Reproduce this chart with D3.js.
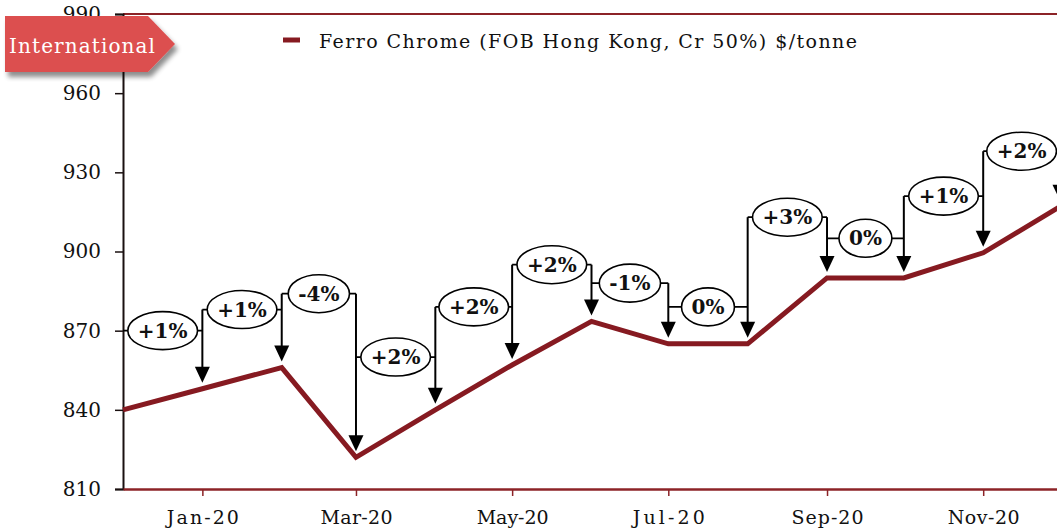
<!DOCTYPE html>
<html>
<head>
<meta charset="utf-8">
<script src="https://cdn.jsdelivr.net/npm/d3@7"></script>
<style>
  html, body { margin: 0; padding: 0; background: #fff; }
  svg { display: block; }
</style>
</head>
<body>
<svg id="chart" width="1057" height="529"></svg>
<script>
// ---------- data ----------
const months = ["2019-12","2020-01","2020-02","2020-03","2020-04","2020-05","2020-06",
                "2020-07","2020-08","2020-09","2020-10","2020-11","2020-12"];
const prices = [840, 848, 856, 822, 840, 857, 873.5, 865, 865, 890, 890, 899.5, 917];
const changeLabels = ["+1%","+1%","-4%","+2%","+2%","+2%","-1%","0%","+3%","0%","+1%","+2%"];
// callout levels (in $/tonne) at which each change bubble sits
const calloutLevels = [870, 878, 884, 860, 879, 895, 888, 879, 913, 905, 921, 938];
const yTicks = [810, 840, 870, 900, 930, 960, 990];
const xTickMonths = ["2020-01","2020-03","2020-05","2020-07","2020-09","2020-11"];
const seriesName = "Ferro Chrome (FOB Hong Kong, Cr 50%) $/tonne";
const bannerText = "International";

// ---------- setup ----------
const parse = d3.timeParse("%Y-%m");
const dates = months.map(parse);
const svg = d3.select("#chart");
const lineColor = "#861a21";
const axisRed = "#8c2327";

const x = d3.scaleTime()
  .domain([parse("2019-12"), parse("2020-12")])
  .range([123, 1060]);
const y = d3.scaleLinear().domain([810, 990]).range([489, 14]);

svg.append("rect").attr("width", 1057).attr("height", 529).attr("fill", "#fff");

// defs
const defs = svg.append("defs");
const f = defs.append("filter").attr("id", "shadow").attr("x", "-20%").attr("y", "-20%")
  .attr("width", "150%").attr("height", "160%");
f.append("feGaussianBlur").attr("in", "SourceAlpha").attr("stdDeviation", 2.5).attr("result", "b");
f.append("feOffset").attr("in", "b").attr("dx", 3).attr("dy", 5).attr("result", "o");
f.append("feComponentTransfer").attr("in", "o").attr("result", "o2")
  .append("feFuncA").attr("type", "linear").attr("slope", 0.45);
const m = f.append("feMerge");
m.append("feMergeNode").attr("in", "o2");
m.append("feMergeNode").attr("in", "SourceGraphic");

// top border of plot area
svg.append("line")
  .attr("x1", x.range()[0]).attr("x2", 1057)
  .attr("y1", y(990)).attr("y2", y(990))
  .attr("stroke", axisRed).attr("stroke-width", 2);

// ---------- axes ----------
const yAxis = svg.append("g")
  .attr("transform", `translate(${x.range()[0]},0)`)
  .call(d3.axisLeft(y).tickValues(yTicks).tickSize(8).tickPadding(14).tickFormat(d3.format("d")));
yAxis.select(".domain").attr("stroke", "#1a1010").attr("stroke-width", 2);
yAxis.selectAll(".tick line").attr("stroke", "#1a1010").attr("stroke-width", 1.5);
yAxis.selectAll(".tick text")
  .attr("font-family", "'DejaVu Serif', serif").attr("font-size", 20).attr("fill", "#111");

const xAxis = svg.append("g")
  .attr("transform", `translate(0,${y(810)})`)
  .call(d3.axisBottom(x).tickValues(xTickMonths.map(parse)).tickSize(7).tickPadding(15)
        .tickFormat(d3.timeFormat("%b-%y")).tickSizeOuter(0));
xAxis.select(".domain").attr("stroke", axisRed).attr("stroke-width", 2.5);
xAxis.selectAll(".tick line").attr("stroke", axisRed).attr("stroke-width", 1.5);
xAxis.selectAll(".tick text")
  .attr("font-family", "'DejaVu Serif', serif").attr("font-size", 19).attr("fill", "#111")
  .attr("textLength", 72).attr("lengthAdjust", "spacing");

// ---------- series line ----------
svg.append("path")
  .datum(prices.map((v, i) => ({ d: dates[i], v })))
  .attr("fill", "none")
  .attr("stroke", lineColor)
  .attr("stroke-width", 5)
  .attr("stroke-linejoin", "miter")
  .attr("d", d3.line().x(p => x(p.d)).y(p => y(p.v)));

// ---------- callouts ----------
const ann = svg.append("g");
const tipGap = 6, headH = 16, headW = 15;

// horizontal connectors for each change (from previous month to this month)
changeLabels.forEach((lab, k) => {
  const i = k + 1;
  ann.append("line")
    .attr("x1", x(dates[i - 1])).attr("x2", x(dates[i]))
    .attr("y1", y(calloutLevels[k])).attr("y2", y(calloutLevels[k]))
    .attr("stroke", "#000").attr("stroke-width", 1.8);
});

// vertical arrows at each month pointing down to the price
for (let i = 1; i < dates.length; i++) {
  const levels = [calloutLevels[i - 1]];
  if (i < calloutLevels.length) levels.push(calloutLevels[i]);
  const topY = y(d3.max(levels));
  const tipY = y(prices[i]) - tipGap;
  const xi = x(dates[i]);
  ann.append("line")
    .attr("x1", xi).attr("x2", xi)
    .attr("y1", topY).attr("y2", tipY - headH + 1)
    .attr("stroke", "#000").attr("stroke-width", 2);
  ann.append("path")
    .attr("d", `M${xi - headW / 2},${tipY - headH} L${xi + headW / 2},${tipY - headH} L${xi},${tipY} Z`)
    .attr("fill", "#000");
}

// bubbles
changeLabels.forEach((lab, k) => {
  const i = k + 1;
  const cx = (x(dates[i - 1]) + x(dates[i])) / 2;
  const cy = y(calloutLevels[k]);
  const g = ann.append("g");
  const el = g.append("ellipse").attr("cx", cx).attr("cy", cy)
    .attr("fill", "#fff").attr("stroke", "#000").attr("stroke-width", 1.6);
  const t = g.append("text")
    .attr("x", cx).attr("y", cy + 7)
    .attr("text-anchor", "middle")
    .attr("font-family", "'DejaVu Serif', serif")
    .attr("font-weight", "bold")
    .attr("font-size", 20)
    .attr("fill", "#111")
    .text(lab);
  const tw = t.node().getComputedTextLength();
  el.attr("rx", tw / 2 + 10).attr("ry", 19);
});

// ---------- legend ----------
const lg = svg.append("g");
lg.append("line").attr("x1", 283).attr("x2", 300).attr("y1", 40).attr("y2", 40)
  .attr("stroke", lineColor).attr("stroke-width", 5);
lg.append("text").attr("x", 319).attr("y", 48)
  .attr("font-family", "'DejaVu Serif', serif").attr("font-size", 19).attr("fill", "#111")
  .attr("textLength", 538).attr("lengthAdjust", "spacing")
  .text(seriesName);

// ---------- banner ----------
const bn = svg.append("g");
bn.append("path")
  .attr("d", "M5,16 L148,16 L175,44 L148,72 L5,72 Z")
  .attr("fill", "#dc4f50")
  .attr("filter", "url(#shadow)");
bn.append("text").attr("x", 9).attr("y", 53)
  .attr("font-family", "'DejaVu Serif', serif").attr("font-size", 20).attr("fill", "#fff")
  .attr("textLength", 146).attr("lengthAdjust", "spacing")
  .text(bannerText);
</script>
</body>
</html>
